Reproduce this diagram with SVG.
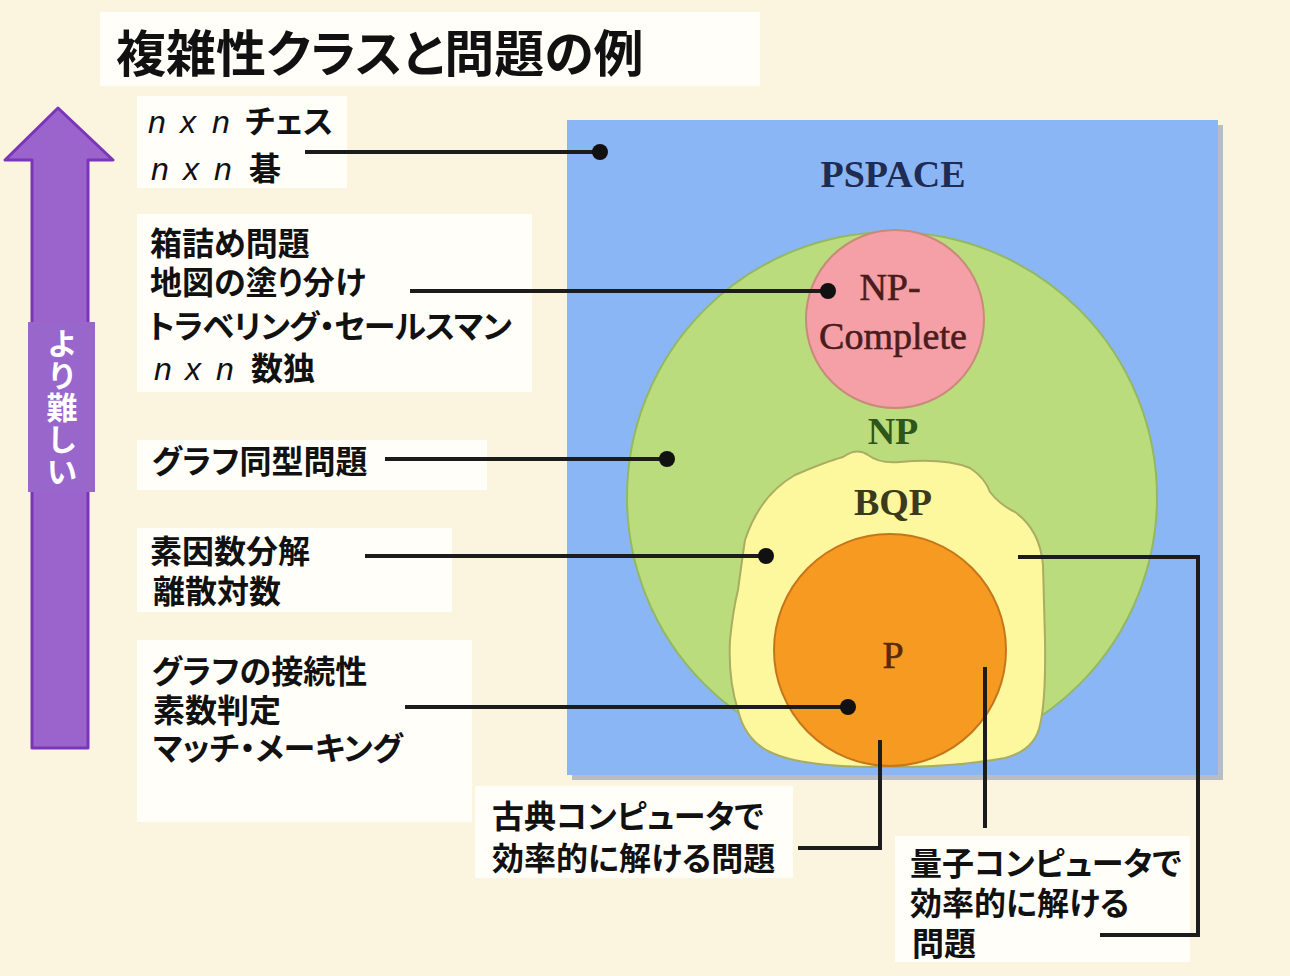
<svg xmlns="http://www.w3.org/2000/svg" width="1290" height="976" viewBox="0 0 1290 976">
<style>
.jp{font-family:"Noto Sans CJK JP","Noto Sans CJK SC",sans-serif;font-feature-settings:"palt";}
.lbl{font-size:32px;font-weight:bold;fill:#111;}
.it{font-family:"Liberation Sans",Arial,sans-serif;font-style:italic;font-weight:normal;}
.cls{font-family:"Liberation Serif","Times New Roman",serif;font-size:38px;text-anchor:middle;}
.box{fill:#fffef9;}
.ln{fill:none;stroke:#1c1c1c;stroke-width:4;}
.dot{fill:#111;}
</style>
<rect width="1290" height="976" fill="#fbf5e0"/>
<g id="label-boxes">
<rect class="box" x="100" y="12" width="660" height="74"/>
<rect class="box" x="137" y="96" width="210" height="92"/>
<rect class="box" x="137" y="214" width="395" height="178"/>
<rect class="box" x="137" y="440" width="350" height="50"/>
<rect class="box" x="137" y="528" width="315" height="84"/>
<rect class="box" x="137" y="640" width="335" height="182"/>
<rect class="box" x="475" y="786" width="318" height="92"/>
<rect class="box" x="895" y="836" width="295" height="126"/>
</g>
<g id="title">
<text class="jp" x="116" y="72" font-size="50" font-weight="bold" fill="#111">複雑性クラスと問題の例</text>
</g>
<g id="arrow">
<path d="M58,108 L113,160 L88,160 L88,748 L32,748 L32,160 L5,160 Z" fill="#9a64cc" stroke="#7b35b8" stroke-width="3" stroke-linejoin="round"/>
<rect x="28" y="322" width="67" height="170" fill="#9966cc"/>
<text x="62" y="328" writing-mode="vertical-rl" style="font-family:'Noto Sans CJK JP','Noto Sans CJK SC',sans-serif;font-size:31px;font-weight:bold;fill:#ffffff;letter-spacing:1px">より難しい</text>
</g>
<g id="pspace">
<rect x="572" y="125" width="651" height="655" fill="#b9bcc2"/>
<rect x="567" y="120" width="651" height="655" fill="#8ab6f6"/>
<text class="cls" x="893" y="187" font-weight="bold" fill="#1e2c52" font-size="37">PSPACE</text>
</g>
<g id="np">
<circle cx="892" cy="497" r="265" fill="#badc7c" stroke="#93b860" stroke-width="2"/>
<text class="cls" x="893" y="444" fill="#2e5618" font-weight="bold">NP</text>
</g>
<g id="np-complete">
<circle cx="895" cy="319" r="89" fill="#f5a0a6" stroke="#c88a7a" stroke-width="2"/>
<text class="cls" x="890" y="300" fill="#4a1c1c" stroke="#4a1c1c" stroke-width="0.6">NP-</text>
<text class="cls" x="893" y="349" fill="#4a1c1c" stroke="#4a1c1c" stroke-width="0.6">Complete</text>
</g>
<g id="bqp">
<path d="M843,457 Q857,447 868,455 Q880,464 900,462 Q945,458 970,468 Q985,478 990,492 Q1000,505 1015,512 Q1040,530 1043,565 L1045,640 Q1046,700 1040,725 Q1035,750 1005,758 Q950,768 880,767 Q800,767 770,752 Q745,740 738,710 Q728,680 730,640 Q733,610 738,590 Q742,560 745,540 Q760,495 795,475 Q825,462 843,457 Z" fill="#fdf79e" stroke="#a9ad62" stroke-width="2"/>
<text class="cls" x="893" y="515" fill="#3a3a1c" font-weight="bold">BQP</text>
</g>
<g id="p">
<circle cx="890" cy="650" r="116" fill="#f79a22" stroke="#c6761a" stroke-width="2"/>
<text class="cls" x="893" y="668" fill="#5a2a08" font-size="34" stroke="#5a2a08" stroke-width="0.6">P</text>
</g>
<g id="connectors">
<path class="ln" d="M305,152 H600"/><circle class="dot" cx="600" cy="152" r="8"/>
<path class="ln" d="M410,291 H828"/><circle class="dot" cx="828" cy="291" r="8"/>
<path class="ln" d="M385,459 H667"/><circle class="dot" cx="667" cy="459" r="8"/>
<path class="ln" d="M365,556 H766"/><circle class="dot" cx="766" cy="556" r="8"/>
<path class="ln" d="M405,707 H848"/><circle class="dot" cx="848" cy="707" r="8"/>
<path class="ln" d="M880,740 V848 H798"/>
<path class="ln" d="M985,667 V828"/>
<path class="ln" d="M1018,557 H1198 V935 H1100"/>
</g>
<g id="labels" class="jp lbl">
<text x="148" y="133"><tspan class="it">n</tspan><tspan class="it" x="180">x</tspan><tspan class="it" x="212">n</tspan><tspan x="245">チェス</tspan></text>
<text x="151" y="180"><tspan class="it">n</tspan><tspan class="it" x="183">x</tspan><tspan class="it" x="214">n</tspan><tspan x="249">碁</tspan></text>
<text x="150" y="255">箱詰め問題</text>
<text x="150" y="294">地図の塗り分け</text>
<text x="148" y="338" textLength="364">トラベリング・セールスマン</text>
<text x="154" y="380"><tspan class="it">n</tspan><tspan class="it" x="185">x</tspan><tspan class="it" x="216">n</tspan><tspan x="251">数独</tspan></text>
<text x="152" y="473">グラフ同型問題</text>
<text x="150" y="563">素因数分解</text>
<text x="153" y="603">離散対数</text>
<text x="152" y="683">グラフの接続性</text>
<text x="153" y="722">素数判定</text>
<text x="153" y="760">マッチ・メーキング</text>
<text x="492" y="828">古典コンピュータで</text>
<text x="492" y="870">効率的に解ける問題</text>
<text x="910" y="875">量子コンピュータで</text>
<text x="910" y="915">効率的に解ける</text>
<text x="912" y="955">問題</text>
</g>
</svg>
